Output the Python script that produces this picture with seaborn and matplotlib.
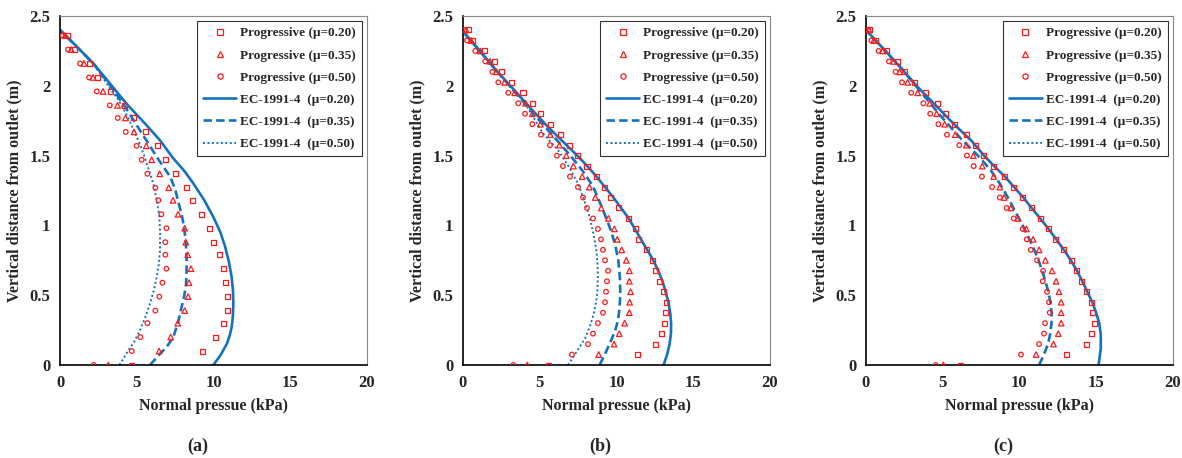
import matplotlib
matplotlib.use("Agg")
import matplotlib.pyplot as plt
from matplotlib.lines import Line2D
import seaborn as sns

# marker heights (m)
Y_A = [2.36, 2.26, 2.16, 2.06, 1.96, 1.86, 1.77, 1.67, 1.57, 1.47, 1.37, 1.27, 1.18,
       1.08, 0.98, 0.88, 0.79, 0.69, 0.59, 0.49, 0.39, 0.30, 0.20, 0.10, 0.0]
Y_BC = [2.4, 2.325, 2.25, 2.175, 2.1, 2.025, 1.95, 1.875, 1.8, 1.725, 1.65, 1.575, 1.5,
        1.425, 1.35, 1.275, 1.2, 1.125, 1.05, 0.975, 0.9, 0.825, 0.75, 0.675, 0.6,
        0.525, 0.45, 0.375, 0.3, 0.225, 0.15, 0.075, 0.0]

# progressive (kPa)
A_P20 = [0.48, 0.96, 1.89, 2.45, 3.30, 4.21, 4.80, 5.58, 6.34, 6.86, 7.51, 8.23, 8.62,
         9.21, 9.71, 9.97, 10.36, 10.68, 10.75, 10.88, 10.88, 10.62, 10.16, 9.27, 4.67]
A_P35 = [0.33, 0.72, 1.56, 2.15, 2.80, 3.74, 4.26, 4.82, 5.62, 5.97, 6.49, 7.08, 7.36,
         7.69, 8.12, 8.19, 8.32, 8.53, 8.40, 8.34, 8.12, 7.67, 7.21, 6.45, 3.15]
A_P50 = [0.17, 0.52, 1.30, 1.89, 2.39, 3.24, 3.76, 4.28, 4.99, 5.32, 5.69, 6.21, 6.41,
         6.60, 6.93, 6.86, 6.86, 6.93, 6.67, 6.47, 6.21, 5.69, 5.23, 4.67, 2.19]

B_P20 = [0.33, 0.65, 1.41, 2.04, 2.50, 3.15, 3.91, 4.56, 5.02, 5.69, 6.36, 6.97, 7.49,
         8.08, 8.73, 9.19, 9.64, 10.14, 10.79, 11.21, 11.44, 11.97, 12.36, 12.55, 12.83,
         13.07, 13.27, 13.18, 13.14, 12.96, 12.55, 11.38, 5.54]
B_P35 = [0.20, 0.52, 1.13, 1.76, 2.19, 2.71, 3.37, 4.08, 4.52, 5.04, 5.69, 6.28, 6.73,
         7.19, 7.77, 8.23, 8.62, 9.01, 9.47, 9.86, 10.05, 10.34, 10.64, 10.84, 10.84,
         10.92, 10.86, 10.84, 10.53, 10.18, 9.84, 8.84, 4.19]
B_P50 = [0.11, 0.26, 0.80, 1.45, 1.91, 2.30, 2.95, 3.60, 4.04, 4.52, 5.08, 5.67, 6.12,
         6.51, 6.97, 7.49, 7.82, 8.08, 8.47, 8.79, 8.99, 9.12, 9.25, 9.45, 9.38, 9.32,
         9.25, 9.12, 8.79, 8.47, 8.14, 7.10, 3.28]

C_P20 = [0.24, 0.65, 1.32, 2.04, 2.50, 3.15, 3.87, 4.65, 5.17, 5.74, 6.52, 7.17, 7.67,
         8.34, 9.06, 9.63, 10.21, 10.80, 11.37, 11.89, 12.37, 12.89, 13.41, 13.72, 14.06,
         14.37, 14.70, 14.76, 14.87, 14.70, 14.37, 13.06, 6.13]
C_P35 = [0.20, 0.50, 1.09, 1.80, 2.19, 2.72, 3.37, 4.15, 4.61, 5.13, 5.82, 6.54, 7.00,
         7.58, 8.32, 8.72, 9.00, 9.45, 9.91, 10.45, 10.89, 11.28, 11.69, 12.13, 12.39,
         12.58, 12.72, 12.72, 12.72, 12.53, 12.22, 11.09, 5.04]
C_P50 = [0.15, 0.35, 0.82, 1.50, 1.93, 2.35, 2.95, 3.74, 4.19, 4.72, 5.28, 6.08, 6.58,
         7.02, 7.56, 8.22, 8.72, 9.17, 9.63, 10.21, 10.48, 10.74, 11.15, 11.54, 11.52,
         11.80, 11.93, 11.98, 11.67, 11.60, 11.28, 10.10, 4.55]

# EC-1991-4 curves: pressure (kPa) and height (m)
A_E20_X = [0.0, 1.1, 2.17, 3.3, 4.34, 5.45, 6.51, 7.38, 8.1, 8.69, 9.4, 9.99, 10.45, 10.75,
           11.0, 11.18, 11.27, 11.29, 11.26, 11.18, 11.05, 10.86, 10.45, 9.99]
A_E20_Y = [2.40, 2.28, 2.16, 2.01, 1.87, 1.74, 1.61, 1.48, 1.39, 1.30, 1.18, 1.06, 0.95, 0.85,
           0.74, 0.63, 0.53, 0.44, 0.35, 0.27, 0.21, 0.15, 0.07, 0.0]
A_E35_X = [0.0, 2.17, 3.35, 4.3, 5.21, 5.8, 6.3, 7.17, 7.5, 7.7, 7.92, 8.08, 8.2, 8.25,
           8.24, 8.21, 8.1, 7.93, 7.7, 7.38, 6.95, 6.51, 5.86]
A_E35_Y = [2.40, 2.16, 1.99, 1.84, 1.68, 1.58, 1.49, 1.35, 1.26, 1.17, 1.08, 0.99, 0.87, 0.75,
           0.66, 0.58, 0.50, 0.42, 0.31, 0.20, 0.13, 0.08, 0.0]
A_E50_X = [0.0, 2.17, 3.2, 3.8, 4.4, 4.89, 5.25, 5.54, 6.08, 6.3, 6.47, 6.52, 6.51, 6.43,
           6.30, 6.1, 5.86, 5.55, 5.21, 4.85, 4.45, 3.87]
A_E50_Y = [2.40, 2.16, 1.99, 1.90, 1.78, 1.66, 1.57, 1.48, 1.30, 1.18, 1.06, 0.94, 0.82, 0.72,
           0.63, 0.53, 0.44, 0.34, 0.25, 0.17, 0.105, 0.0]

B_E20_X = [0.0, 1.1, 2.17, 3.3, 4.4, 5.5, 6.7, 7.45, 8.1, 8.7, 9.25, 9.8, 10.3, 10.8, 11.2,
           11.6, 12.0, 12.4, 12.72, 13.0, 13.2, 13.38, 13.5, 13.56, 13.55, 13.46, 13.3, 13.07]
B_E20_Y = [2.39, 2.25, 2.11, 1.975, 1.84, 1.71, 1.58, 1.50, 1.425, 1.35, 1.275, 1.2, 1.125,
           1.05, 0.975, 0.9, 0.825, 0.75, 0.675, 0.6, 0.525, 0.45, 0.375, 0.3, 0.225, 0.15,
           0.075, 0.0]
B_E35_X = [0.0, 2.17, 3.5, 4.99, 6.0, 7.0, 7.8, 8.47, 9.05, 9.55, 9.9, 10.12, 10.22, 10.25,
           10.2, 10.10, 9.9, 9.66, 9.3, 8.90]
B_E35_Y = [2.39, 2.11, 1.94, 1.75, 1.625, 1.50, 1.39, 1.28, 1.13, 0.99, 0.87, 0.75, 0.63, 0.51,
           0.41, 0.32, 0.24, 0.18, 0.09, 0.0]
B_E50_X = [0.0, 2.17, 3.4, 3.9, 4.56, 5.21, 6.19, 6.9, 7.49, 7.9, 8.25, 8.5, 8.69, 8.77,
           8.79, 8.76, 8.69, 8.5, 8.25, 7.95, 7.60, 7.2, 6.84]
B_E50_Y = [2.39, 2.11, 1.95, 1.90, 1.78, 1.66, 1.54, 1.42, 1.30, 1.18, 1.06, 0.94, 0.82, 0.72,
           0.63, 0.54, 0.46, 0.36, 0.27, 0.19, 0.13, 0.06, 0.0]

C_E20_X = [0.0, 1.1, 2.19, 3.3, 4.55, 5.65, 6.45, 6.85, 7.7, 8.35, 9.05, 9.65, 10.25, 10.8,
           11.35, 11.9, 12.4, 12.9, 13.35, 13.75, 14.1, 14.42, 14.75, 15.0, 15.2, 15.3, 15.3,
           15.16]
C_E20_Y = [2.40, 2.27, 2.14, 2.0, 1.86, 1.735, 1.65, 1.61, 1.5, 1.425, 1.35, 1.275, 1.2, 1.125,
           1.05, 0.975, 0.9, 0.825, 0.75, 0.675, 0.6, 0.525, 0.45, 0.375, 0.30, 0.22, 0.12,
           0.0]
C_E35_X = [0.0, 2.19, 3.4, 4.9, 6.2, 7.3, 8.1, 8.72, 9.3, 9.8, 10.4, 10.89, 11.25, 11.54,
           11.85, 12.04, 12.1, 12.09, 12.0, 11.87, 11.6, 11.28]
C_E35_Y = [2.40, 2.14, 1.98, 1.78, 1.62, 1.50, 1.40, 1.30, 1.19, 1.085, 0.96, 0.846, 0.75,
           0.655, 0.54, 0.44, 0.37, 0.30, 0.22, 0.153, 0.075, 0.0]

PANELS = [
    ("(a)", Y_A, (A_P20, A_P35, A_P50),
     ((A_E20_X, A_E20_Y), (A_E35_X, A_E35_Y), (A_E50_X, A_E50_Y))),
    ("(b)", Y_BC, (B_P20, B_P35, B_P50),
     ((B_E20_X, B_E20_Y), (B_E35_X, B_E35_Y), (B_E50_X, B_E50_Y))),
    # no separate mu=0.50 curve is visible in panel (c)
    ("(c)", Y_BC, (C_P20, C_P35, C_P50),
     ((C_E20_X, C_E20_Y), (C_E35_X, C_E35_Y), None)),
]
MUS = ["0.20", "0.35", "0.50"]
MARKERS = ["s", "^", "o"]
MARKER_SIZES = [13, 16, 11]
LINESTYLES = ["-", (0, (3.2, 1.6)), (0, (1, 1.3))]
LINEWIDTHS = [1.9, 1.9, 1.4]
BLUE = "#1372c0"
RED = "#ff1a1a"

sns.set_style("ticks")
plt.rcParams["font.family"] = ["Liberation Serif", "DejaVu Serif"]
plt.rcParams["font.weight"] = "bold"
plt.rcParams["axes.labelweight"] = "bold"

fig = plt.figure(figsize=(11.82, 4.58), dpi=100)
lefts = [0.0508, 0.3917, 0.7326]
for (tag, ys, prog, ec), left in zip(PANELS, lefts):
    ax = fig.add_axes([left, 0.203, 0.2597, 0.762])
    for xs, mk, ms in zip(prog, MARKERS, MARKER_SIZES):
        sns.scatterplot(x=xs, y=ys, marker=mk, s=ms, facecolors="none",
                        edgecolor=RED, linewidth=0.9, ax=ax, zorder=3)
    for curve, ls, lw in zip(ec, LINESTYLES, LINEWIDTHS):
        if curve is None:
            continue
        sns.lineplot(x=curve[0], y=curve[1], orient="y", sort=True, estimator=None,
                     color=BLUE, linestyle=ls, linewidth=lw, ax=ax, zorder=2)

    ax.set_xlim(0, 20)
    ax.set_ylim(0, 2.5)
    ax.set_xticks([0, 5, 10, 15, 20])
    ax.set_yticks([0, 0.5, 1, 1.5, 2, 2.5])
    ax.set_yticklabels(["0", "0.5", "1", "1.5", "2", "2.5"])
    ax.tick_params(labelsize=12, length=0, pad=7)
    for lbl in ax.get_xticklabels() + ax.get_yticklabels():
        lbl.set_fontweight("bold")
    for side in ["top", "right"]:
        ax.spines[side].set_color("#888888")
        ax.spines[side].set_linewidth(0.8)
    for side in ["left", "bottom"]:
        ax.spines[side].set_color("black")
        ax.spines[side].set_linewidth(1.2)
    ax.set_xlabel("Normal pressue (kPa)", fontsize=11.5, fontweight="bold", labelpad=5)
    ax.set_ylabel("Vertical distance from outlet (m)", fontsize=11.5, fontweight="bold",
                  labelpad=5)

    handles = []
    labels = []
    for mk, mu in zip(MARKERS, MUS):
        handles.append(Line2D([], [], linestyle="none", marker=mk, markersize=3.8,
                              markerfacecolor="none", markeredgecolor=RED, markeredgewidth=0.9))
        labels.append(f"Progressive (\u03bc={mu})")
    for ls, lw, mu in zip(LINESTYLES, LINEWIDTHS, MUS):
        handles.append(Line2D([], [], color=BLUE, linestyle=ls, linewidth=lw))
        labels.append(f"EC-1991-4  (\u03bc={mu})")
    leg = ax.legend(handles, labels, loc="upper right", fontsize=9.5, frameon=True,
                    fancybox=False, edgecolor="black", handlelength=2.5,
                    labelspacing=0.75, borderaxespad=0.4, handletextpad=0.3,
                    borderpad=0.45)
    leg.get_frame().set_linewidth(0.8)
    for t in leg.get_texts():
        t.set_fontweight("bold")

    fig.text(left + 0.2597 / 2 - 0.0135, 0.026, tag, ha="center", va="center",
             fontsize=13, fontweight="bold")

fig.savefig("out.png", dpi=100)
